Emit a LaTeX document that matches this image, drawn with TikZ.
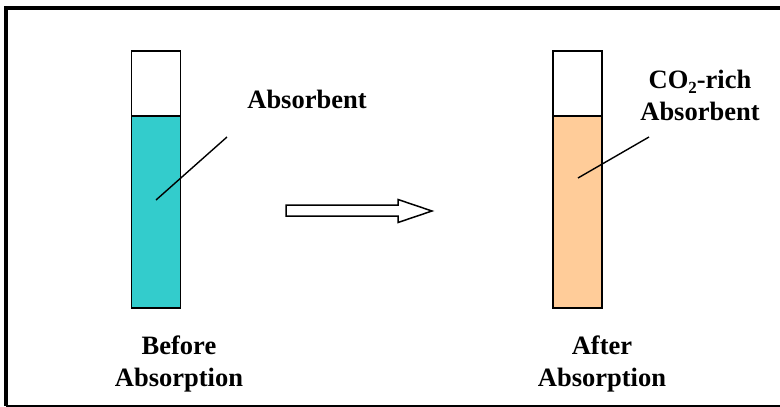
\documentclass[tikz,border=0pt]{standalone}
\usepackage{fontspec}
\setmainfont{Liberation Serif}
\newcommand{\subtwo}{\raisebox{-5pt}{\fontsize{17}{17}\selectfont 2}}
\begin{document}
\begin{tikzpicture}[x=1pt,y=-1pt,
  tube/.style={draw=black, line width=1.5pt, fill=white, minimum width=49pt, inner sep=0pt, anchor=north},
  lbl/.style={font=\bfseries\fontsize{26.5}{31.5}\selectfont, align=center, inner sep=0pt, anchor=base},
  leader/.style={draw=black, line width=1.4pt},
  blockarrow/.style={draw=black, line width=1.5pt, fill=white}]
\useasboundingbox (0,0) rectangle (780,407);
% frame: heavy top and left rules, thin bottom rule
\draw[line width=4pt] (4,8) -- (780,8);
\draw[line width=4pt] (6,6) -- (6,406);
\draw[line width=1.2pt] (6,406) -- (780,406);

% empty tube head spaces
\node[tube, minimum height=257pt] (tubeA) at (156,50) {};
\node[tube, minimum height=257pt] (tubeB) at (577.5,50) {};
% liquid columns
\node[tube, fill={rgb,255:red,51;green,204;blue,204}, minimum height=192pt] (liqA) at (156,115) {};
\node[tube, fill={rgb,255:red,255;green,204;blue,153}, minimum height=192pt] (liqB) at (577.5,115) {};

% labels (base anchor sits on the last line's baseline)
\node[lbl] (labA) at (307,108) {Absorbent};
\node[lbl] (labB) at (700,120) {CO\subtwo-rich\\Absorbent};
\node[lbl] (capA) at (179,386) {Before\\Absorption};
\node[lbl] (capB) at (602,386) {After\\Absorption};

% leader lines
\coordinate (inA) at (156,200);
\coordinate (outA) at (227,137);
\coordinate (inB) at (578,178);
\coordinate (outB) at (649,137);
\draw[leader] (inA) -- (outA);
\draw[leader] (inB) -- (outB);

% process arrow
\draw[blockarrow] (286,205) -- (398,205) -- (398,199.5) -- (432,211) -- (398,222.5) -- (398,216) -- (286,216) -- cycle;
\end{tikzpicture}
\end{document}
